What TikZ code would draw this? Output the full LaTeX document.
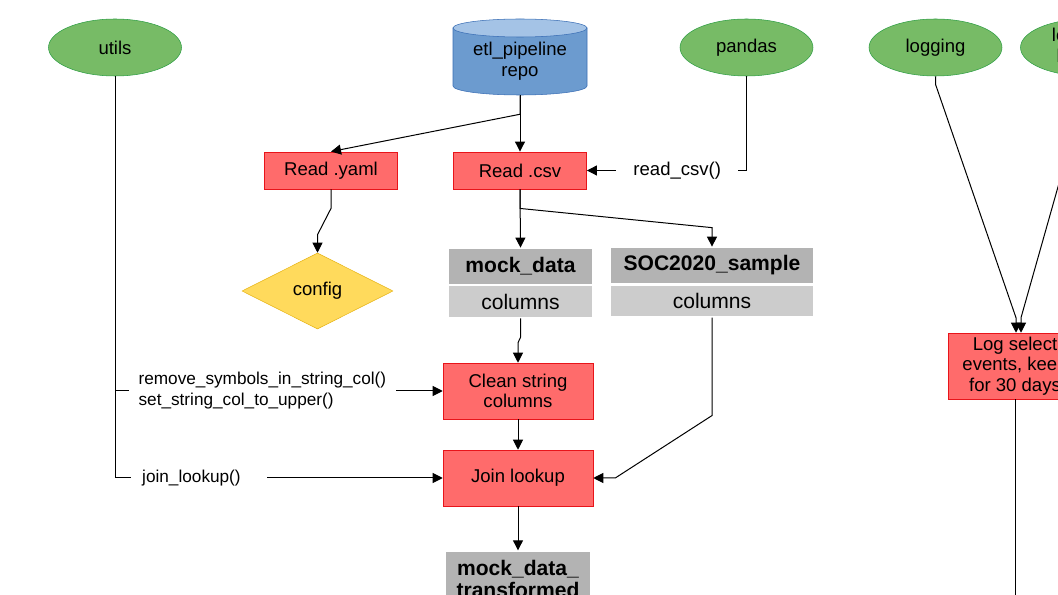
\documentclass[tikz,border=0pt]{standalone}
\usepackage{fontspec}
\setmainfont{Liberation Sans}
\usetikzlibrary{shapes.geometric}
\usetikzlibrary{arrows.meta}

\definecolor{libgreen}{HTML}{77BB66}
\definecolor{libline}{HTML}{2E9E44}
\definecolor{procred}{HTML}{FF6B6B}
\definecolor{procline}{HTML}{E8141A}
\definecolor{etlblue}{HTML}{6C9BCF}
\definecolor{etltop}{HTML}{A4C3E6}
\definecolor{etlline}{HTML}{3A6EB5}
\definecolor{cfgyellow}{HTML}{FFDA5C}
\definecolor{cfgline}{HTML}{E7B416}
\definecolor{hdgray}{HTML}{B3B3B3}
\definecolor{colgray}{HTML}{CCCCCC}

\newcommand{\fsmain}{\fontsize{13.9}{15.5}\selectfont}
\newcommand{\fslabel}{\fontsize{12.9}{15.75}\selectfont}
\newcommand{\fshead}{\fontsize{15.8}{16.5}\selectfont\bfseries}

\tikzset{
  lib/.style={ellipse, draw=libline, fill=libgreen, minimum width=99.75pt, minimum height=42.75pt, inner sep=0pt, align=center, font=\fsmain},
  proc/.style={rectangle, draw=procline, fill=procred, minimum width=112.5pt, minimum height=42pt, inner sep=0pt, align=center, font=\fsmain},
  readbox/.style={proc, minimum width=100pt, minimum height=28pt},
  cfg/.style={diamond, draw=cfgline, fill=cfgyellow, minimum width=113.25pt, minimum height=57pt, inner sep=0pt, font=\fsmain},
  tblhead/.style={rectangle, draw=white, line width=1pt, fill=hdgray, minimum height=27pt, inner sep=0pt, align=center, font=\fshead},
  tblcols/.style={rectangle, draw=white, line width=1pt, fill=colgray, minimum height=24pt, inner sep=0pt, font=\fontsize{15.8}{17}\selectfont},
  lbl/.style={fill=white, inner xsep=7.5pt, inner ysep=2pt, align=left, font=\fslabel},
}

\begin{document}
\begin{tikzpicture}[x=0.75pt, y=-0.75pt,
    wire/.style={line width=0.75pt},
    link/.style={wire, -{Triangle[length=7.5pt, width=7.5pt]}}]
  \useasboundingbox (0,0) rectangle (1058,595);
  \clip (0,0) rectangle (1058,595);

  % libraries
  \node[lib] (utils) at (115,47.5) {utils};
  \node[lib] (pandas) at (746.5,47.5) {pandas};
  \node[lib] (logging) at (935.5,47.5) {logging};
  \node[lib] (loghelp) at (1087,47.5) {logging\_\\helpers};

  % repo
  \filldraw[fill=etlblue, draw=etlline] (453,28) -- (453,86) arc[start angle=180, end angle=0, x radius=67, y radius=9] -- (587,28) -- cycle;
  \filldraw[fill=etltop, draw=etlline] (520,28) ellipse[x radius=67, y radius=9];
  \node[inner sep=0pt, minimum width=100.5pt, minimum height=51pt, align=center, font=\fsmain] (etl) at (520,61) {etl\_pipeline\\repo};

  % steps
  \node[readbox] (yaml) at (331,170.5) {Read .yaml};
  \node[readbox] (csv) at (520,170.5) {Read .csv};
  \node[cfg] (config) at (317.5,291) {config};
  \node[tblhead, minimum width=108.75pt] (mockhead) at (520.5,266.3) {mock\_data};
  \node[tblcols, minimum width=108.75pt] (mockcols) at (520.5,301.7) {columns};
  \node[tblhead, minimum width=152.25pt] (sochead) at (712,265.3) {SOC2020\_sample};
  \node[tblcols, minimum width=152.25pt] (soccols) at (712,300.9) {columns};
  \node[proc] (clean) at (518,391) {Clean string\\columns};
  \node[proc] (join) at (518,478) {Join lookup};
  \node[tblhead, minimum width=108.75pt, minimum height=42pt] (mdthead) at (518,579) {mock\_data\_\\transformed};
  \node[proc, minimum width=100.5pt, minimum height=49.5pt] (log) at (1015,366) {Log select\\events, keep\\for 30 days};

  % connectors
  \draw[link] (etl.south) -- (csv.north);
  \draw[link] (etl.south) -- ++(0,19) -- (yaml.north);
  \draw[link] (yaml.south) -- ++(0,19) -- ([yshift=13.5pt]config.north) -- (config.north);
  \draw[link] (pandas.south) |- node[lbl, pos=0.717, inner xsep=13pt, font=\fsmain] (csvcall) {read\_csv()} (csv.east);
  \draw[link] (csv.south) -- (mockhead.north);
  \draw[link] (csv.south) -- ++(0,19) -- ([yshift=14.25pt]sochead.north) -- (sochead.north);
  \draw[link] (mockcols.south) -- ++(0,19) -- ([yshift=15pt]clean.north) -- (clean.north);
  \draw[link] (clean.south) -- (join.north);
  \draw[link] (join.south) -- (mdthead.north);
  \draw[link] (soccols.south) -- ++(0,98) -- ([xshift=16.5pt]join.east) -- (join.east);

  \coordinate (utilsfork) at (utils.south |- clean.west);
  \draw[link] (utils.south) |- node[lbl, pos=0.524, anchor=west, inner xsep=8.25pt] (joincall) {join\_lookup()\hspace{11.25pt}} (join.west);
  \draw[link] (utilsfork) -- node[lbl, pos=0.04, anchor=west] (cleancall) {remove\_symbols\_in\_string\_col()\\set\_string\_col\_to\_upper()} (clean.west);

  \draw[link] (logging.south) -- ++(0,8) -- ([xshift=0.75pt, yshift=11.25pt]log.north) -- ([xshift=0.75pt]log.north);
  \draw[link] (loghelp.south) -- ++(0,8) -- ([xshift=4.5pt, yshift=11.25pt]log.north) -- ([xshift=4.5pt]log.north);
  \coordinate (logout) at (1015,600);
  \draw[wire] (log.south) -- (logout);
\end{tikzpicture}
\end{document}
